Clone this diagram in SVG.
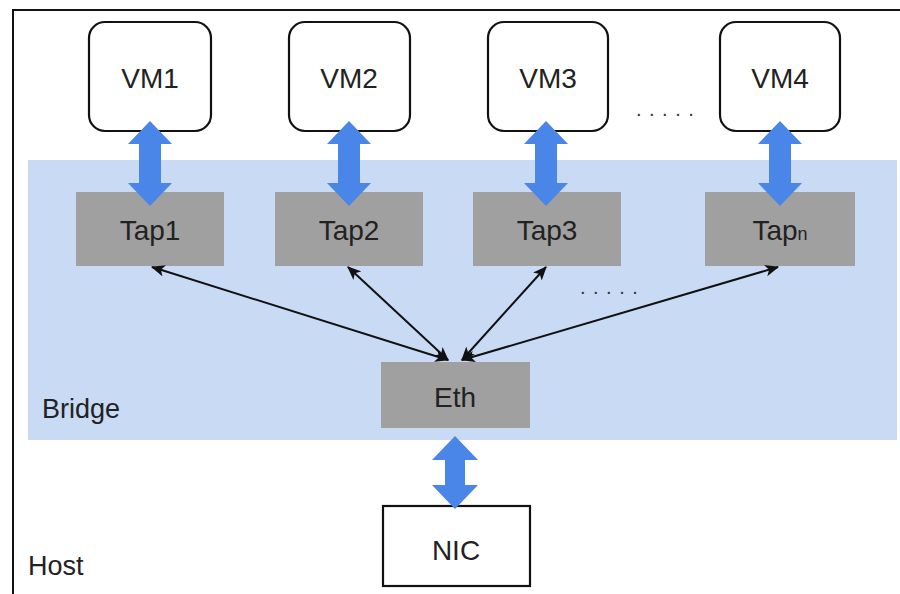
<svg xmlns="http://www.w3.org/2000/svg" width="900" height="594" viewBox="0 0 900 594">
<style>
.vm{fill:#fff;stroke:#111;stroke-width:2.2}
.tap{fill:#a0a0a0}
.t{font-family:"Liberation Sans",Arial,sans-serif;font-size:28px;fill:#222;text-anchor:middle}
.lbl{font-family:"Liberation Sans",Arial,sans-serif;font-size:27px;fill:#222}
.blue{fill:#4a86e8}
.ln{stroke:#111;stroke-width:2;fill:none;marker-start:url(#ah);marker-end:url(#ah)}
.dots{font-family:"Liberation Sans",Arial,sans-serif;font-size:20px;fill:#333;letter-spacing:7.5px}
</style>
<defs>
<marker id="ah" viewBox="0 0 12 10" refX="11" refY="5" markerWidth="7" markerHeight="6" orient="auto-start-reverse" markerUnits="strokeWidth">
<path d="M0,0 L12,5 L0,10 L3,5 Z" fill="#111"/>
</marker>
</defs>
<rect width="900" height="594" fill="#fff"/>
<g id="host">
<rect x="13" y="10" width="900" height="600" fill="none" stroke="#111" stroke-width="2"/>
<text class="lbl" x="28" y="575">Host</text>
</g>
<g id="bridge">
<rect x="28" y="160" width="869" height="280" fill="#c9daf5"/>
<text class="lbl" x="42" y="418">Bridge</text>
</g>
<g id="vm1"><rect class="vm" x="89" y="22" width="122" height="109" rx="16"/><text class="t" x="150" y="88">VM1</text></g>
<g id="vm2"><rect class="vm" x="289" y="22" width="121" height="109" rx="16"/><text class="t" x="349" y="88">VM2</text></g>
<g id="vm3"><rect class="vm" x="488" y="22" width="120" height="109" rx="16"/><text class="t" x="548" y="88">VM3</text></g>
<g id="vm4"><rect class="vm" x="720" y="22" width="120" height="109" rx="16"/><text class="t" x="780" y="88">VM4</text></g>
<text class="dots" x="636" y="116">.....</text>
<g id="tap1"><rect class="tap" x="76" y="192" width="148" height="74"/><text class="t" x="150" y="240">Tap1</text></g>
<g id="tap2"><rect class="tap" x="275" y="192" width="148" height="74"/><text class="t" x="349" y="240">Tap2</text></g>
<g id="tap3"><rect class="tap" x="473" y="192" width="148" height="74"/><text class="t" x="547" y="240">Tap3</text></g>
<g id="tapn"><rect class="tap" x="705" y="192" width="150" height="74"/><text class="t" x="780" y="240">Tap<tspan font-size="18">n</tspan></text></g>
<text class="dots" x="580" y="294">.....</text>
<g id="eth"><rect class="tap" x="381" y="362" width="149" height="66"/><text class="t" x="455" y="407">Eth</text></g>
<g id="nic"><rect class="vm" x="383" y="506" width="147" height="80"/><text class="t" x="456" y="560">NIC</text></g>
<g id="connectors">
<polygon class="blue" points="150,121 172,144 161,144 161,183 172,183 150,206 128,183 139,183 139,144 128,144"/>
<polygon class="blue" points="349,121 371,144 360,144 360,183 371,183 349,206 327,183 338,183 338,144 327,144"/>
<polygon class="blue" points="546,121 568,144 557,144 557,183 568,183 546,206 524,183 535,183 535,144 524,144"/>
<polygon class="blue" points="780,121 802,144 791,144 791,183 802,183 780,206 758,183 769,183 769,144 758,144"/>
<polygon class="blue" points="455,436 478,460 465,460 465,485 478,485 455,509 432,485 445,485 445,460 432,460"/>
<line class="ln" x1="152" y1="267" x2="448" y2="360"/>
<line class="ln" x1="348" y1="267" x2="448" y2="360"/>
<line class="ln" x1="546" y1="267" x2="462" y2="360"/>
<line class="ln" x1="778" y1="267" x2="462" y2="360"/>
</g>
</svg>
